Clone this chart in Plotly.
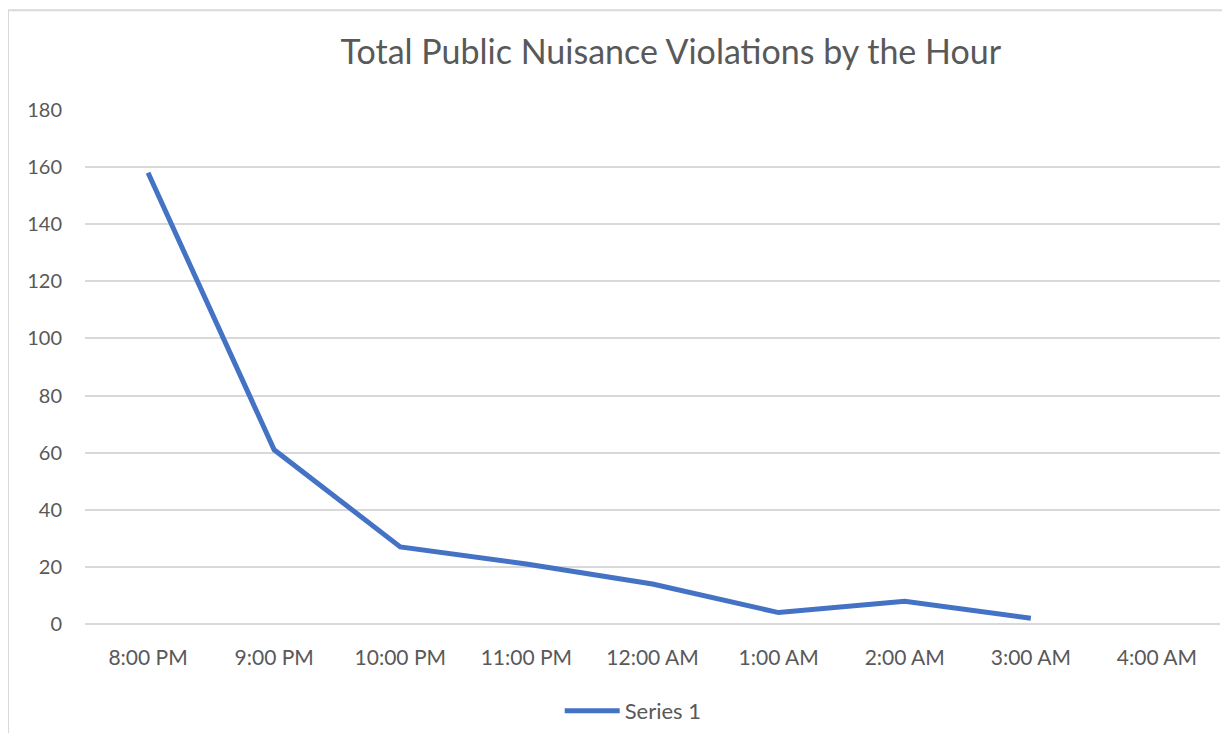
import plotly.graph_objects as go

# Excel-like palette
LINE_BLUE = "#4472C4"
GRID_GRAY = "#D9D9D9"
TEXT_GRAY = "#595959"
FONT = "Lato, 'Open Sans', sans-serif"

hours = ["8:00 PM", "9:00 PM", "10:00 PM", "11:00 PM", "12:00 AM",
         "1:00 AM", "2:00 AM", "3:00 AM", "4:00 AM"]
violations = [158, 61, 27, 21, 14, 4, 8, 2, None]
y_ticks = [0, 20, 40, 60, 80, 100, 120, 140, 160, 180]

fig = go.Figure()
fig.add_trace(go.Scatter(
    x=hours,
    y=violations,
    mode="lines",
    name="Series 1",
    line=dict(color=LINE_BLUE, width=5),
))

fig.update_layout(
    paper_bgcolor="white",
    plot_bgcolor="white",
    font=dict(family=FONT, size=21, color=TEXT_GRAY),
    title=dict(
        text="Total Public Nuisance Violations by the Hour",
        font=dict(family=FONT, size=34, color=TEXT_GRAY),
        x=0.546, xanchor="center",
        y=0.939, yanchor="middle",
    ),
    showlegend=True,
    legend=dict(
        orientation="h",
        x=0.483, xanchor="center",
        y=-0.167, yanchor="middle",
        itemwidth=55,
        font=dict(family=FONT, size=22, color=TEXT_GRAY),
    ),
    margin=dict(l=77, r=2, t=102, b=108),
)

# light frame around the chart area
fig.add_shape(
    type="rect", xref="paper", yref="paper",
    x0=-0.0678, x1=1.05, y0=-0.3, y1=1.194,
    line=dict(color=GRID_GRAY, width=2),
    fillcolor="rgba(0,0,0,0)", layer="below",
)

fig.update_xaxes(
    type="category",
    range=[-0.5, len(hours) - 0.5],
    showgrid=False,
    showline=False,
    zeroline=False,
    ticklabelstandoff=19,
    tickfont=dict(family=FONT, size=21, color=TEXT_GRAY),
)
fig.update_yaxes(
    range=[0, 180],
    tickvals=y_ticks,
    showgrid=True,
    gridcolor=GRID_GRAY,
    gridwidth=1.5,
    zeroline=True,
    zerolinecolor=GRID_GRAY,
    zerolinewidth=1.5,
    showline=False,
    ticklabelstandoff=22,
    tickfont=dict(family=FONT, size=20, color=TEXT_GRAY),
)

fig.write_html("out.html")
